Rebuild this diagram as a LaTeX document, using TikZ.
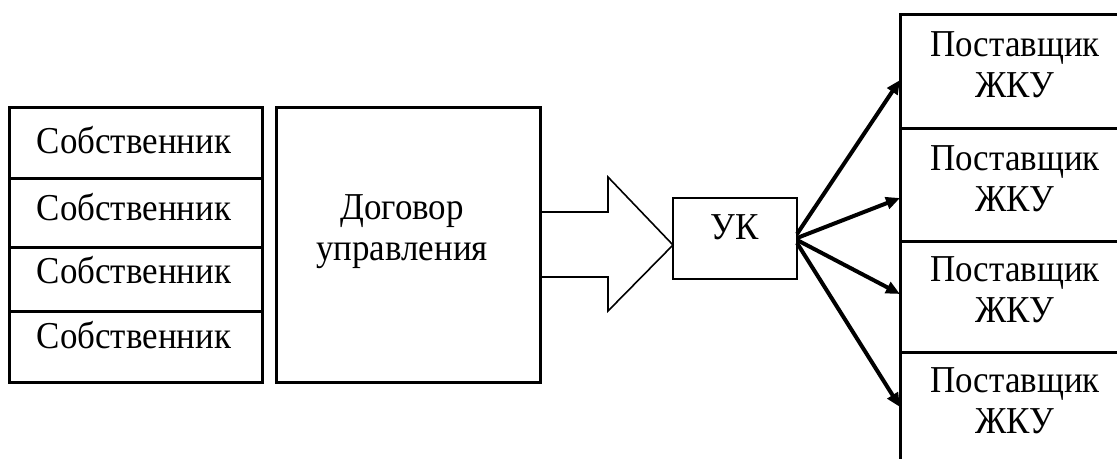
\documentclass[tikz,border=0pt]{standalone}
\usepackage{fontspec}
\setmainfont{Liberation Serif}
\newfontfamily\wideserif[FakeStretch=0.92]{Liberation Serif}
\usetikzlibrary{arrows.meta}
\tikzset{
  txt/.style={font=\wideserif\fontsize{38}{41}\selectfont, align=center, inner sep=0pt, anchor=base},
  cell/.style={draw, line width=3pt, minimum width=253pt, inner sep=0pt},
  thinbox/.style={draw, line width=2pt, inner sep=0pt},
  fat/.style={line width=4pt, -{Triangle[length=14pt,width=12pt]}},
}
\begin{document}
\begin{tikzpicture}[x=1pt,y=-1pt]
\useasboundingbox (0,0) rectangle (1117,459);
% owners
\node[cell, minimum height=71pt] (s1) at (135.5,142.5) {};
\node[cell, minimum height=69pt] (s2) at (135.5,212.5) {};
\node[cell, minimum height=64pt] (s3) at (135.5,279) {};
\node[cell, minimum height=71pt] (s4) at (135.5,346.5) {};
\node[txt] (t1) at (134,153) {Собственник};
\node[txt] (t2) at (134,220) {Собственник};
\node[txt] (t3) at (134,283) {Собственник};
\node[txt] (t4) at (134,348) {Собственник};
% contract
\node[draw, line width=3pt, minimum width=264pt, minimum height=275pt, inner sep=0pt] (dog) at (408,244.5) {};
\node[txt] (dogt) at (402,260) {Договор\\управления};
% block arrow
\coordinate (a1) at (540,212);
\coordinate (a2) at (540,277);
\coordinate (tip) at (673,245);
\draw[line width=1.6pt, line join=miter] (a1) -- (608,212) -- (608,177) -- (tip) -- (608,311) -- (608,277) -- (a2);
% UK
\node[thinbox, minimum width=124pt, minimum height=81pt] (uk) at (735,238.5) {};
\node[txt] (ukt) at (735,239) {УК};
% suppliers
\draw[line width=3pt] (1117,14) -- (900,14) -- (900,459);
\draw[line width=3pt] (900,128) -- (1117,128);
\draw[line width=3pt] (900,241) -- (1117,241);
\draw[line width=3pt] (900,352) -- (1117,352);
\node[txt] (p1t) at (1015,97) {Поставщик\\ЖКУ};
\node[txt] (p2t) at (1015,211) {Поставщик\\ЖКУ};
\node[txt] (p3t) at (1015,322) {Поставщик\\ЖКУ};
\node[txt] (p4t) at (1015,433) {Поставщик\\ЖКУ};
\coordinate (q1) at (900,80);
\coordinate (q2) at (900,198);
\coordinate (q3) at (900,294);
\coordinate (q4) at (900,407);
\coordinate (o1) at (797,234);
\coordinate (o2) at (797,238);
\coordinate (o3) at (797,240);
\coordinate (o4) at (797,243);
\draw[fat] (o1) -- (q1);
\draw[fat] (o2) -- (q2);
\draw[fat] (o3) -- (q3);
\draw[fat] (o4) -- (q4);
\end{tikzpicture}
\end{document}
